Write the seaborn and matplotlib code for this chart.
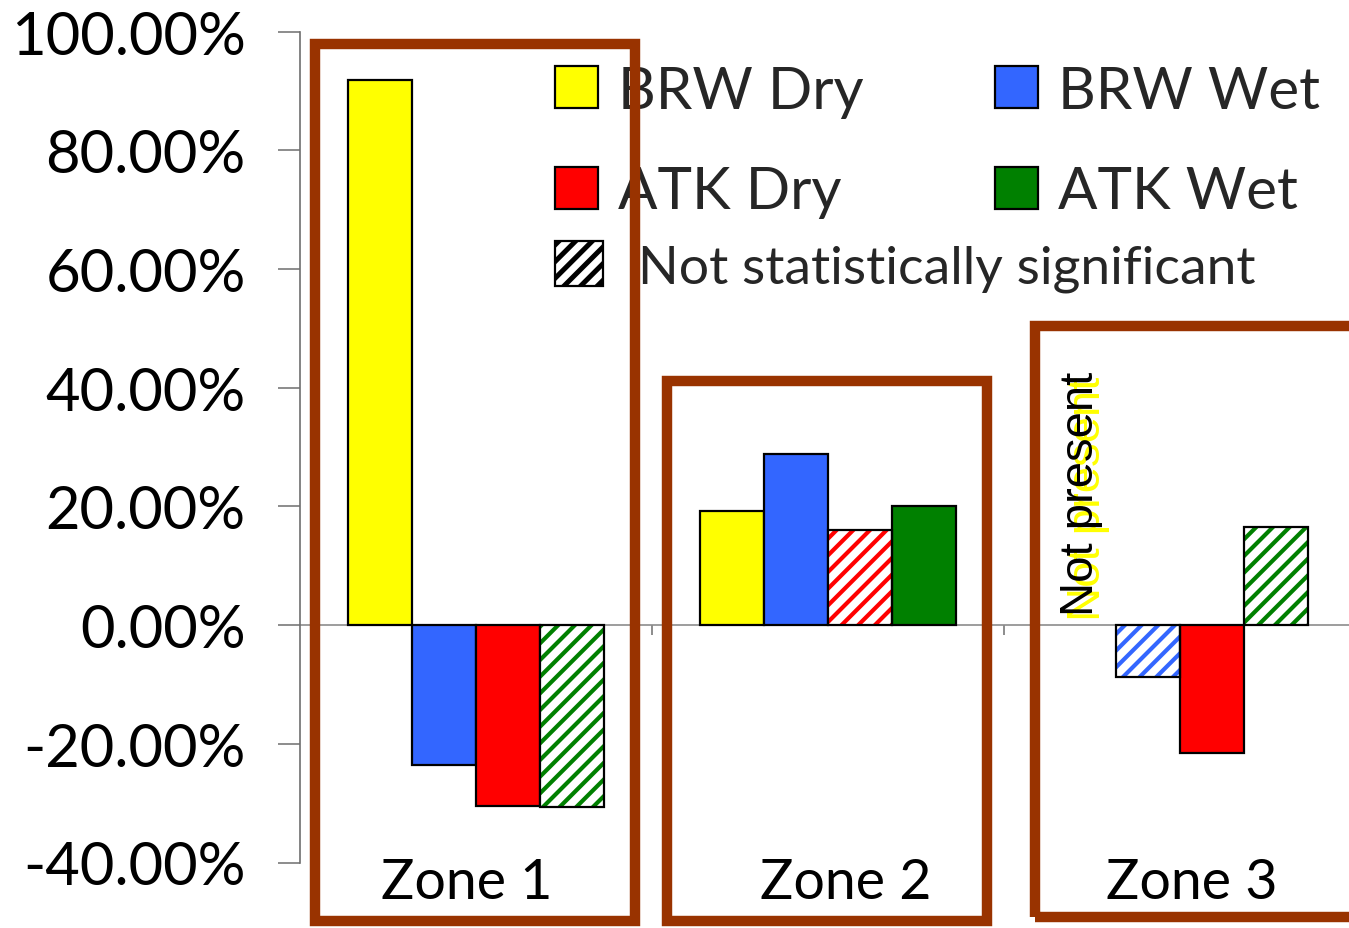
import numpy as np
import pandas as pd
import matplotlib
matplotlib.use("Agg")
import matplotlib.pyplot as plt
from matplotlib.patches import Rectangle, Patch
from matplotlib.ticker import FuncFormatter
import seaborn as sns

# ---- data -------------------------------------------------------------
zones = ["Zone 1", "Zone 2", "Zone 3"]
series = ["BRW Dry", "BRW Wet", "ATK Dry", "ATK Wet"]
colors = ["#FFFF00", "#3366FF", "#FF0000", "#008000"]

brw_dry = [91.8, 19.3, np.nan]   # not present in zone 3
brw_wet = [-23.6, 28.8, -8.7]
atk_dry = [-30.4, 16.1, -21.6]
atk_wet = [-30.7, 20.1, 16.5]

# False -> change is not statistically significant (hatched bar)
brw_dry_sig = [True, True, True]
brw_wet_sig = [True, True, False]
atk_dry_sig = [True, False, True]
atk_wet_sig = [False, True, False]

y_ticks = [-40, -20, 0, 20, 40, 60, 80, 100]

values = [brw_dry, brw_wet, atk_dry, atk_wet]
sigs = [brw_dry_sig, brw_wet_sig, atk_dry_sig, atk_wet_sig]
rows = []
for s, vals, sg in zip(series, values, sigs):
    for z, v, g in zip(zones, vals, sg):
        rows.append({"zone": z, "series": s, "value": v, "sig": g})
df = pd.DataFrame(rows)

# ---- style ------------------------------------------------------------
sns.set_style("white")
plt.rcParams["font.family"] = ["Lato", "DejaVu Sans"]
plt.rcParams["axes.unicode_minus"] = False
HATCH_LW = 3.0
plt.rcParams["hatch.linewidth"] = HATCH_LW


def thick_hatch(p, lw=HATCH_LW):
    if hasattr(p, "set_hatch_linewidth"):
        p.set_hatch_linewidth(lw)
    return p


W, H = 1349, 929
fig = plt.figure(figsize=(W / 100, H / 100), dpi=100)
ax = fig.add_axes([300 / W, (H - 863.5) / H, 1056 / W, 831 / H])

sns.barplot(data=df.dropna(subset=["value"]), x="zone", y="value",
            hue="series", hue_order=series, order=zones,
            palette=dict(zip(series, colors)), saturation=1,
            width=0.73, edgecolor="black", linewidth=1.6,
            legend=False, ax=ax, zorder=3)

# hatch the bars whose change is not significant
cmap = dict(zip(series, colors))
sig_lookup = {(r.series, r.zone): r.sig for r in df.itertuples()}
for s, cont in zip(series, ax.containers):
    for bar in cont:
        zi = int(round(bar.get_x() + bar.get_width() / 2))
        if not sig_lookup[(s, zones[zi])]:
            bar.set_facecolor("white")
            bar.set_edgecolor(cmap[s])
            bar.set_hatch("//")
            bar.set_linewidth(0)
            thick_hatch(bar)
            ax.add_patch(Rectangle(bar.get_xy(), bar.get_width(), bar.get_height(),
                                   fill=False, edgecolor="black", lw=1.6, zorder=4))

# ---- axes -------------------------------------------------------------
ax.set_xlim(-0.5, 2.5)
ax.set_ylim(-40, 100)
ax.set_yticks(y_ticks)
ax.yaxis.set_major_formatter(FuncFormatter(lambda v, p: f"{v:.2f}%"))
ax.set_xticks([0.5, 1.5])
ax.set_xticklabels([])
ax.set_xlabel("")
ax.set_ylabel("")
for side in ["top", "right"]:
    ax.spines[side].set_visible(False)
ax.spines["bottom"].set_position(("data", 0))
ax.spines["bottom"].set_color("#8c8c8c")
ax.spines["left"].set_color("#6e6e6e")
ax.spines["bottom"].set_linewidth(1.2)
ax.spines["left"].set_linewidth(1.2)
ax.spines["bottom"].set_zorder(2)
ax.tick_params(axis="y", left=True, direction="out", length=16, width=1.1,
               color="#6e6e6e", pad=23, labelsize=43, labelcolor="black")
ax.tick_params(axis="x", bottom=True, direction="out", length=7, width=1.1,
               color="#6e6e6e")
ax.set_facecolor("white")

# ---- annotations ------------------------------------------------------
shadow = ax.transData + matplotlib.transforms.ScaledTranslation(
    4.5 / 72, -4 / 72, fig.dpi_scale_trans)
ax.text(1.72, 22.3, "Not present", rotation=90, ha="center", va="center",
        fontsize=34, family=["Liberation Sans"], color="#FFFF00", zorder=5,
        transform=shadow)
ax.text(1.72, 22.3, "Not present", rotation=90, ha="center", va="center",
        fontsize=34, family=["Liberation Sans"], color="black", zorder=6)

zone_label_x = [-0.026, 1.051, 2.033]
for z, xz in zip(zones, zone_label_x):
    ax.text(xz, -46.0, z, ha="center", va="baseline", fontsize=40, color="black",
            clip_on=False)

# zone outline boxes (x in category units, y in %)
boxes = [(-0.457, 0.452, -49.85, 97.96),
         (0.543, 1.452, -49.85, 41.19),
         (1.588, 2.700, -49.17, 50.34)]
for x0, x1, y0, y1 in boxes:
    ax.add_patch(Rectangle((x0, y0), x1 - x0, y1 - y0, fill=False,
                           edgecolor="#993300", lw=7.5, clip_on=False, zorder=8,
                           joinstyle="miter"))

# ---- legend -----------------------------------------------------------
def handles(names):
    return [Patch(facecolor=cmap[n], edgecolor="black", lw=1.6, label=n) for n in names]

common = dict(frameon=False, borderpad=0, borderaxespad=0, fontsize=42,
              handlelength=0.74, handleheight=0.74, handletextpad=0.34,
              labelspacing=0.82, loc="center left", bbox_transform=fig.transFigure)
leg_a = ax.legend(handles=handles(["BRW Dry", "ATK Dry"]),
                  bbox_to_anchor=(555 / W, 1 - 142.5 / H), **common)
ax.add_artist(leg_a)
leg_b = ax.legend(handles=handles(["BRW Wet", "ATK Wet"]),
                  bbox_to_anchor=(995 / W, 1 - 142.5 / H), **common)
ax.add_artist(leg_b)
hatch_handle = thick_hatch(Patch(facecolor="white", edgecolor="black", hatch="//",
                                 lw=1.6, label="Not statistically significant"), 3.6)
leg_c = ax.legend(handles=[hatch_handle],
                  frameon=False, borderpad=0, borderaxespad=0, fontsize=38.5,
                  handlelength=0.9, handleheight=0.9, handletextpad=0.66,
                  loc="center left", bbox_transform=fig.transFigure,
                  bbox_to_anchor=(555 / W, 1 - 267.5 / H))
for lg in (leg_a, leg_b, leg_c):
    lg.set_zorder(7)
    for h in lg.legend_handles:
        if h.get_hatch():
            thick_hatch(h, 3.6)

fig.savefig("out.png", dpi=100, facecolor="white")
